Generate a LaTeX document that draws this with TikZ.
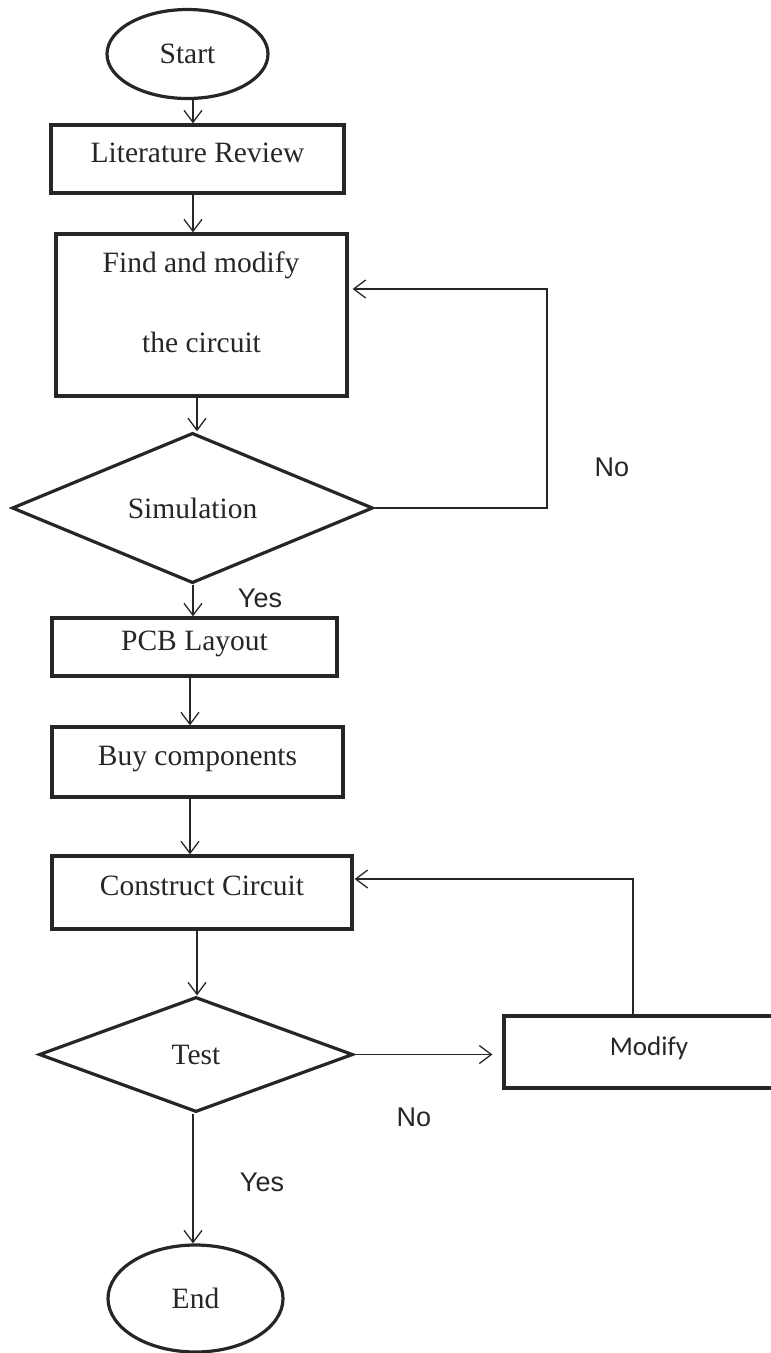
\documentclass[tikz,border=0pt]{standalone}
\usepackage{fontspec}
\setmainfont{Liberation Serif}
\newfontfamily\labelfont{Liberation Sans}
\newfontfamily\modfont{Carlito}
\usetikzlibrary{shapes.geometric,arrows.meta,calc}
\definecolor{ink}{RGB}{38,38,38}
\tikzset{
  every node/.style={text=ink},
  boxnode/.style={draw=ink, line width=3.2pt, rectangle, inner sep=0pt,
     font=\fontsize{29.5}{34}\selectfont, text height=20pt, text depth=14pt},
  ovalnode/.style={draw=ink, line width=3.2pt, ellipse, inner sep=0pt,
     font=\fontsize{29.5}{34}\selectfont},
  decnode/.style={draw=ink, line width=3.2pt, diamond, inner sep=0pt,
     font=\fontsize{29.5}{34}\selectfont},
  plaintext/.style={font=\fontsize{29.5}{34}\selectfont, inner sep=0pt},
  yn/.style={font=\labelfont\fontsize{27}{32}\selectfont, inner sep=0pt},
  arr/.style={draw=ink, line width=1.3pt, -{Straight Barb[length=12pt,width=18pt,line width=1.3pt]}},
  fb/.style={draw=ink, line width=1.1pt, -{Straight Barb[length=12pt,width=18pt,line width=1.3pt]}},
}
\begin{document}
\begin{tikzpicture}[x=1pt,y=-1pt]
\useasboundingbox (0,0) rectangle (771,1353);
\clip (0,0) rectangle (771,1353);

% nodes
\node[ovalnode, minimum width=161pt, minimum height=89pt] (start) at (187.5,54) {Start};
\node[boxnode, minimum width=293pt, minimum height=68pt] (lit) at (197.5,159) {Literature Review};
\node[boxnode, minimum width=291pt, minimum height=162pt] (find) at (201.5,315) {};
\node[plaintext] (findA) at (201,265) {Find and modify};
\node[plaintext] (findB) at (201.5,342) {the circuit};
\node[decnode, minimum width=361pt, minimum height=130pt] (sim) at (192.5,508) {Simulation};
\node[boxnode, minimum width=285pt, minimum height=58pt] (pcb) at (194.5,647) {PCB Layout};
\node[boxnode, minimum width=291pt, minimum height=70pt] (buy) at (197.5,762) {Buy components};
\node[boxnode, minimum width=300pt, minimum height=73pt] (cons) at (202,892.5) {Construct Circuit};
\node[decnode, minimum width=314pt, minimum height=115pt] (test) at (196,1054.5) {Test};
\node[boxnode, minimum width=290pt, minimum height=72pt, font=\modfont\fontsize{27}{32}\selectfont] (mod) at (649,1052) {Modify};
\node[ovalnode, minimum width=175pt, minimum height=107pt] (end) at (195.5,1298.5) {End};

% labels
\node[yn] (no1) at (612,467) {No};
\node[yn] (yes1) at (260,598) {Yes};
\node[yn] (no2) at (414,1117) {No};
\node[yn] (yes2) at (262,1182) {Yes};

% helper columns
\coordinate (xa) at (193,0);
\coordinate (xb) at (197,0);
\coordinate (xc) at (190,0);

% main flow
\draw[arr] (xa |- start.south) -- (xa |- lit.north);
\draw[arr] (xa |- lit.south) -- (xa |- find.north);
\draw[arr] (xb |- find.south) -- (xb |- sim.north);
\draw[arr] (xa |- sim.south) -- (xa |- pcb.north);
\draw[arr] (xc |- pcb.south) -- (xc |- buy.north);
\draw[arr] (xc |- buy.south) -- (xc |- cons.north);
\draw[arr] (xb |- cons.south) -- (xb |- test.north);
\draw[arr] (xa |- test.south) -- (xa |- end.north);

% simulation feedback
\coordinate (c1) at (547,289);
\draw[fb, shorten >=4pt] (sim.east) -- (sim.east -| c1) -- (c1) -- (c1 -| find.east);

% test -> modify
\draw[arr, shorten >=10pt] (test.east) -- (test.east -| mod.west);

% modify feedback
\coordinate (c2) at (633,879);
\draw[fb, shorten >=1pt] (c2 |- mod.north) -- (c2) -- (c2 -| cons.east);
\end{tikzpicture}
\end{document}
